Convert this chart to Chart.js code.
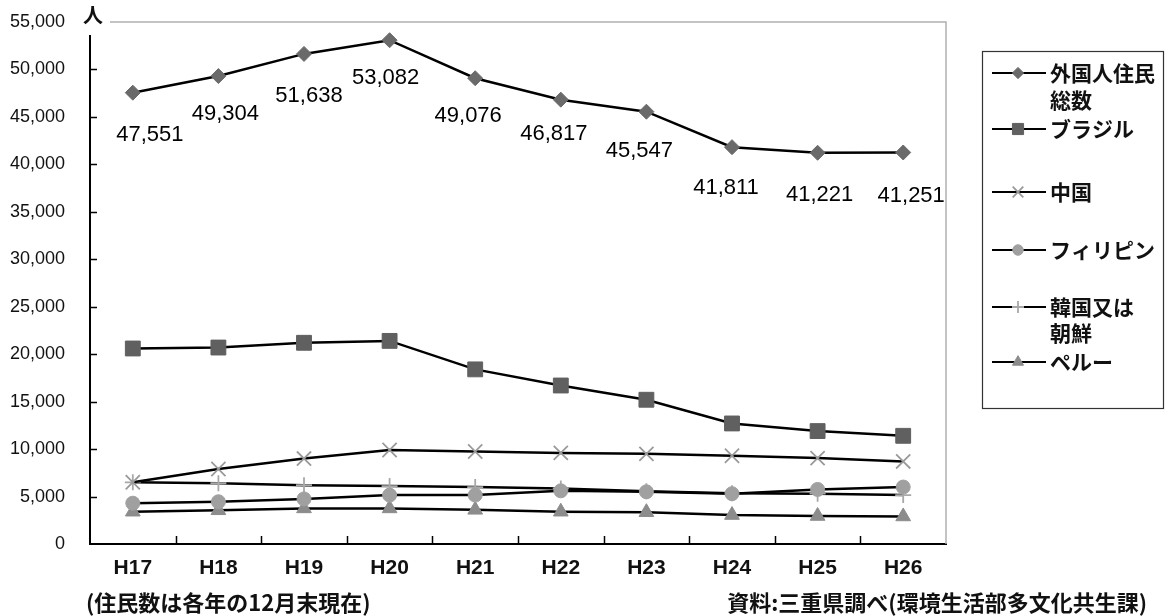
<!DOCTYPE html>
<html>
<head>
<meta charset="utf-8">
<script src="https://cdn.jsdelivr.net/npm/chart.js@4/dist/chart.umd.min.js"></script>
<style>
  html, body { margin: 0; padding: 0; background: #fff; }
  #wrap { position: relative; width: 1172px; height: 616px; }
</style>
</head>
<body>
<div id="wrap"><canvas id="c" width="1172" height="616"></canvas></div>
<script>
// Foreign residents in Mie Prefecture by nationality (end of December each year)
const years = ['H17', 'H18', 'H19', 'H20', 'H21', 'H22', 'H23', 'H24', 'H25', 'H26'];
const totalResidents = [47551, 49304, 51638, 53082, 49076, 46817, 45547, 41811, 41221, 41251];
const brazil      = [20600, 20700, 21200, 21400, 18400, 16700, 15200, 12700, 11900, 11400];
const china       = [6500, 7900, 9000, 9900, 9750, 9600, 9500, 9300, 9050, 8700];
const philippines = [4300, 4450, 4750, 5150, 5150, 5600, 5500, 5300, 5750, 6000];
const korea       = [6500, 6400, 6200, 6100, 6000, 5850, 5550, 5350, 5300, 5150];
const peru        = [3400, 3550, 3750, 3750, 3600, 3400, 3350, 3050, 2950, 2900];

const seriesNames = [['外国人住民', '総数'], ['ブラジル'], ['中国'], ['フィリピン'], ['韓国又は', '朝鮮'], ['ペルー']];
const yMin = 0, yMax = 55000, yStep = 5000;
const unitLabel = '人';
const noteLeft = '(住民数は各年の12月末現在)';
const noteRight = '資料:三重県調べ(環境生活部多文化共生課)';

// label placement for the total-residents values (pixel offsets from each point)
const totalLabelDx = [17, 7, 5, -4, -7, -7, -7, -6, 2, 8];
const totalLabelDy = [42, 38, 42, 38, 38, 34, 39, 41, 42, 43];

// legend layout: baseline rows for each entry
const legendRows = [[73, 100], [129], [192], [250], [307, 333], [362]];

const numFmt = v => v.toLocaleString('en-US');
const CJK = "'Noto Sans CJK JP', 'Noto Sans CJK SC', sans-serif";
const LAT = "'Liberation Sans', Arial, sans-serif";

function ds(label, data, style, bg, border, radius, bw) {
  return {
    label: label.join(''), data,
    borderColor: '#000', borderWidth: 2.5, tension: 0,
    pointStyle: style, pointRadius: radius, pointHoverRadius: radius,
    pointBackgroundColor: bg, pointBorderColor: border, pointBorderWidth: bw,
    fill: false
  };
}

const datasets = [
  ds(seriesNames[0], totalResidents, 'rectRot', '#6a6a6a', '#6a6a6a', 7.5, 1),
  ds(seriesNames[1], brazil, 'rect', '#606060', '#606060', 10.5, 1),
  ds(seriesNames[2], china, 'crossRot', '#9a9a9a', '#9a9a9a', 10, 1.8),
  ds(seriesNames[3], philippines, 'circle', '#a0a0a0', '#a0a0a0', 7, 1),
  ds(seriesNames[4], korea, 'cross', '#a8a8a8', '#a8a8a8', 8, 1.8),
  ds(seriesNames[5], peru, 'triangle', '#8c8c8c', '#8c8c8c', 8.5, 1)
];

const decorations = {
  id: 'decorations',
  afterDraw(chart) {
    const { ctx, chartArea: a, scales: { x, y } } = chart;
    ctx.save();

    // frame: light top and right edges
    ctx.strokeStyle = '#b0b0b0';
    ctx.lineWidth = 1.5;
    ctx.beginPath();
    ctx.moveTo(110, a.top); ctx.lineTo(a.right, a.top);
    ctx.lineTo(a.right, a.bottom);
    ctx.stroke();

    // inward tick marks
    ctx.strokeStyle = '#000';
    ctx.lineWidth = 1.5;
    ctx.beginPath();
    for (let v = yMin + yStep; v < yMax; v += yStep) {
      const py = Math.round(y.getPixelForValue(v)) + 0.5;
      ctx.moveTo(a.left, py); ctx.lineTo(a.left + 7, py);
    }
    for (let i = 1; i < years.length; i++) {
      const px = Math.round((x.getPixelForValue(i - 1) + x.getPixelForValue(i)) / 2) + 0.5;
      ctx.moveTo(px, a.bottom); ctx.lineTo(px, a.bottom - 8);
    }
    ctx.stroke();

    // unit label at the top of the value axis
    ctx.fillStyle = '#fff';
    ctx.fillRect(a.left - 6, 2, 16, a.top + 11);
    ctx.fillStyle = '#111';
    ctx.font = "bold 20px " + CJK;
    ctx.textAlign = 'center';
    ctx.textBaseline = 'middle';
    ctx.fillText(unitLabel, a.left + 3, 15);

    // values of the total-residents series
    const meta = chart.getDatasetMeta(0);
    ctx.font = "22px " + LAT;
    ctx.fillStyle = '#000';
    meta.data.forEach((pt, i) => {
      ctx.fillText(numFmt(totalResidents[i]), pt.x + totalLabelDx[i], pt.y + totalLabelDy[i]);
    });

    // legend
    const lx = 982, ly = 51, lw = 181, lh = 357;
    ctx.strokeStyle = '#333';
    ctx.lineWidth = 1.2;
    ctx.strokeRect(lx + 0.5, ly + 0.5, lw, lh);
    ctx.font = "bold 21px " + CJK;
    ctx.textAlign = 'left';
    ctx.textBaseline = 'middle';
    chart.data.datasets.forEach((d, i) => {
      const rows = legendRows[i];
      const cy = rows[0];
      ctx.strokeStyle = '#000';
      ctx.lineWidth = 2.2;
      ctx.beginPath();
      ctx.moveTo(992, cy); ctx.lineTo(1046, cy);
      ctx.stroke();
      ctx.fillStyle = d.pointBackgroundColor;
      ctx.strokeStyle = d.pointBorderColor;
      ctx.lineWidth = d.pointBorderWidth;
      Chart.helpers.drawPoint(ctx, {
        pointStyle: d.pointStyle, radius: d.pointRadius * 0.75,
        borderWidth: d.pointBorderWidth, rotation: 0
      }, 1018, cy);
      ctx.fillStyle = '#111';
      seriesNames[i].forEach((t, k) => ctx.fillText(t, 1050, rows[k]));
    });

    // footnotes
    ctx.font = "bold 22px " + CJK;
    ctx.fillStyle = '#111';
    ctx.textAlign = 'left';
    ctx.fillText(noteLeft, 86, 603);
    ctx.textAlign = 'right';
    ctx.fillText(noteRight, 1147, 603);

    ctx.restore();
  }
};

new Chart(document.getElementById('c'), {
  type: 'line',
  data: { labels: years, datasets },
  options: {
    responsive: false,
    animation: false,
    devicePixelRatio: 1,
    layout: { padding: { left: 0, right: 226, top: 22, bottom: 0 } },
    plugins: { legend: { display: false }, tooltip: { enabled: false }, title: { display: false } },
    scales: {
      x: {
        offset: true,
        grid: { display: true, drawOnChartArea: false, drawTicks: false, offset: true },
        border: { display: true, color: '#000', width: 2 },
        ticks: { color: '#111', padding: 12, font: { family: LAT, size: 21, weight: 'bold' } },
        afterFit(s) { s.height = 72; }
      },
      y: {
        min: yMin, max: yMax,
        grid: { display: true, drawOnChartArea: false, drawTicks: false },
        border: { display: true, color: '#000', width: 2 },
        ticks: {
          stepSize: yStep, color: '#111', padding: 25,
          font: { family: LAT, size: 18 },
          callback: v => numFmt(v)
        },
        afterFit(s) { s.width = 90; s.paddingTop = 0; s.paddingBottom = 0; }
      }
    }
  },
  plugins: [decorations]
});
</script>
</body>
</html>
